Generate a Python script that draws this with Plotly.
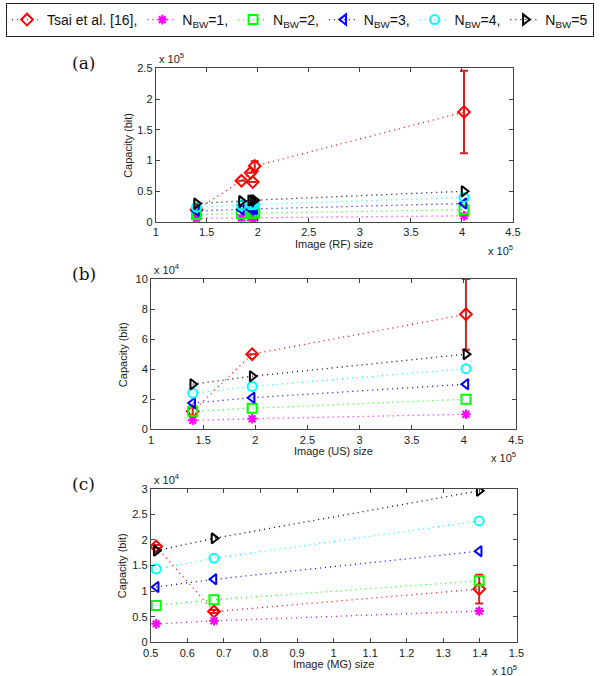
import numpy as np
import plotly.graph_objects as go

# ---------------- data ----------------
# Panel (a): RF images (x in units of 1e5, y in units of 1e5)
rf_size = [140000, 184000, 193000, 195000, 197000, 402000]
rf_tsai = [20000, 67000, 80000, 65000, 91000, 179000]
rf_tsai_err = [0, 0, 0, 0, 8000, 67000]
rf_nbw1 = [6000, 6800, 7000, 7050, 7100, 10000]
rf_nbw2 = [12000, 13600, 14000, 14100, 14200, 20000]
rf_nbw3 = [18000, 20400, 21000, 21150, 21300, 30000]
rf_nbw4 = [24000, 27200, 28000, 28200, 28400, 40000]
rf_nbw5 = [30000, 34000, 35000, 35250, 35500, 50000]

# Panel (b): US images (x in 1e5, y in 1e4)
us_size = [140000, 197000, 402000]
us_tsai = [12000, 50000, 76500]
us_tsai_err = [3000, 0, 23500]
us_nbw1 = [6000, 7000, 10000]
us_nbw2 = [12000, 14000, 20000]
us_nbw3 = [17500, 21000, 30000]
us_nbw4 = [24000, 28500, 40300]
us_nbw5 = [30000, 35300, 50000]

# Panel (c): MG images (x in 1e5, y in 1e4)
mg_size = [51500, 67300, 139800]
mg_tsai = [18700, 6000, 10400]
mg_tsai_err = [300, 300, 2800]
mg_nbw1 = [3600, 4200, 6100]
mg_nbw2 = [7200, 8300, 12000]
mg_nbw3 = [10800, 12300, 17800]
mg_nbw4 = [14300, 16400, 23700]
mg_nbw5 = [17900, 20300, 29600]

series_names = ["Tsai et al. [16],", "N<sub>BW</sub>=1,", "N<sub>BW</sub>=2,",
                "N<sub>BW</sub>=3,", "N<sub>BW</sub>=4,", "N<sub>BW</sub>=5"]
colors = ["#ff0000", "#ff00ff", "#00ff00", "#0000ff", "#00ffff", "#000000"]
symbols = ["diamond-open", "asterisk-open", "square-open", "triangle-left-open",
           "circle-open", "triangle-right-open"]

panels = [
    dict(x=rf_size, tsai=rf_tsai, err=rf_tsai_err,
         nbw=[rf_nbw1, rf_nbw2, rf_nbw3, rf_nbw4, rf_nbw5],
         xs=1e5, ys=1e5, xr=[1, 4.5], yr=[0, 2.5], xd=0.5, yd=0.5,
         xt="Image (RF) size", yexp="5", label="(a)",
         dom_x=[155.7, 513], dom_y=[68.3, 222]),
    dict(x=us_size, tsai=us_tsai, err=us_tsai_err,
         nbw=[us_nbw1, us_nbw2, us_nbw3, us_nbw4, us_nbw5],
         xs=1e5, ys=1e4, xr=[1, 4.5], yr=[0, 10], xd=0.5, yd=2,
         xt="Image (US) size", yexp="4", label="(b)",
         dom_x=[151, 516], dom_y=[279, 429.3]),
    dict(x=mg_size, tsai=mg_tsai, err=mg_tsai_err,
         nbw=[mg_nbw1, mg_nbw2, mg_nbw3, mg_nbw4, mg_nbw5],
         xs=1e5, ys=1e4, xr=[0.5, 1.5], yr=[0, 3], xd=0.1, yd=0.5,
         xt="Image (MG) size", yexp="4", label="(c)",
         dom_x=[150.7, 516.5], dom_y=[488.7, 642.3]),
]

W, H = 600, 676
fig = go.Figure()
annotations = []
font_sans = "Arial"

for i, p in enumerate(panels):
    sfx = "" if i == 0 else str(i + 1)
    xa, ya = "x" + sfx, "y" + sfx
    xs = np.array(p["x"], dtype=float) / p["xs"]
    all_y = [p["tsai"]] + p["nbw"]
    for j, yv in enumerate(all_y):
        yv = np.array(yv, dtype=float) / p["ys"]
        kw = {}
        if j == 0:
            kw["error_y"] = dict(type="data", array=np.array(p["err"]) / p["ys"],
                                 color="#d42020", thickness=2, width=4, visible=True)
        fig.add_trace(go.Scatter(
            x=xs, y=yv, mode="lines+markers", name=series_names[j],
            xaxis=xa, yaxis=ya, showlegend=(i == 0),
            line=dict(color=colors[j], width=1.3, dash="1px,4px"),
            marker=dict(symbol=symbols[j], size=9 if j != 1 else 8, color=colors[j],
                        line=dict(color=colors[j], width=2)),
            **kw))
    axis_common = dict(showline=True, linecolor="#444", linewidth=1, mirror="ticks",
                       ticks="inside", ticklen=4, tickcolor="#444",
                       showgrid=False, zeroline=False,
                       tickfont=dict(family=font_sans, size=11, color="#222"))
    dx = [p["dom_x"][0] / W, p["dom_x"][1] / W]
    dy = [1 - p["dom_y"][1] / H, 1 - p["dom_y"][0] / H]
    fig.update_layout(**{
        ("xaxis" + sfx): dict(domain=dx, range=p["xr"], dtick=p["xd"], tick0=p["xr"][0],
                              anchor=ya, **axis_common),
        ("yaxis" + sfx): dict(domain=dy, range=p["yr"], dtick=p["yd"], tick0=0,
                              anchor=xa, **axis_common),
    })
    # axis titles
    annotations.append(dict(x=(dx[0] + dx[1]) / 2, y=1 - (p["dom_y"][1] + 22) / H,
                            xref="paper", yref="paper", text=p["xt"], showarrow=False,
                            xanchor="center", yanchor="middle",
                            font=dict(family=font_sans, size=11, color="#222")))
    annotations.append(dict(x=(p["dom_x"][0] - 28) / W, y=(dy[0] + dy[1]) / 2,
                            xref="paper", yref="paper", text="Capacity (bit)",
                            showarrow=False, textangle=-90, xanchor="center",
                            yanchor="middle",
                            font=dict(family=font_sans, size=11, color="#222")))
    # exponent labels
    annotations.append(dict(x=(p["dom_x"][0] + 1) / W, y=1 - (p["dom_y"][0] - 1) / H,
                            xref="paper", yref="paper",
                            text="x 10<sup>" + p["yexp"] + "</sup>", showarrow=False,
                            xanchor="left", yanchor="bottom",
                            font=dict(family=font_sans, size=11, color="#222")))
    annotations.append(dict(x=(p["dom_x"][1] + 2) / W, y=1 - (p["dom_y"][1] + 19) / H,
                            xref="paper", yref="paper",
                            text="x 10<sup>5</sup>", showarrow=False,
                            xanchor="right", yanchor="top",
                            font=dict(family=font_sans, size=11, color="#222")))
    # panel label
    annotations.append(dict(x=70 / W, y=1 - (p["dom_y"][0] - 5) / H,
                            xref="paper", yref="paper", text=p["label"],
                            showarrow=False, xanchor="left", yanchor="middle",
                            font=dict(family="DejaVu Serif, serif",
                                      size=17, color="#111")))

fig.update_layout(
    width=W, height=H,
    margin=dict(l=0, r=0, t=0, b=0, autoexpand=False),
    paper_bgcolor="white", plot_bgcolor="white",
    annotations=annotations,
    legend=dict(orientation="h", x=0.5, xanchor="center", y=1 - 3 / H, yanchor="top",
                bordercolor="#222", borderwidth=1, bgcolor="white",
                font=dict(family=font_sans, size=14, color="#111"),
                itemwidth=30, tracegroupgap=0),
)

fig.write_html("out.html",
               config={"displayModeBar": False},
               post_script="document.body.style.margin='0px';"
                           "document.body.style.overflow='hidden';")
